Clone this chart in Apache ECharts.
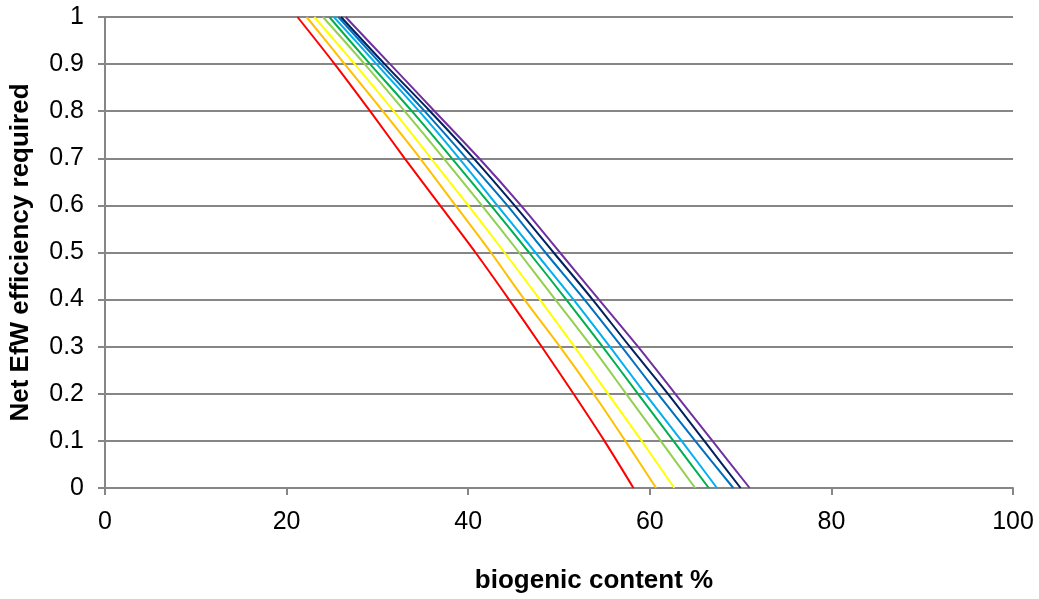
<!DOCTYPE html>
<html>
<head>
<meta charset="utf-8">
<script src="https://cdn.jsdelivr.net/npm/echarts@6/dist/echarts.min.js"></script>
<style>html,body{margin:0;padding:0;background:#fff;}#c{width:1039px;height:599px;}</style>
</head>
<body>
<div id="c"></div>
<script>
// efficiency levels (y values) at which biogenic content was read
var efficiency = [1, 0.9, 0.8, 0.7, 0.6, 0.5, 0.4, 0.3, 0.2, 0.1, 0];
// biogenic content % for each series at the efficiency levels above
var s1 = [21.2, 25.3, 29.2, 33.0, 36.9, 40.8, 44.5, 48.1, 51.6, 55.0, 58.2];
var s2 = [22.2, 26.4, 30.6, 34.7, 38.6, 42.5, 46.2, 50.1, 53.8, 57.3, 60.7];
var s3 = [23.05, 27.5, 31.8, 35.9, 40.0, 44.0, 47.9, 51.7, 55.4, 59.1, 62.7];
var s4 = [24.0, 28.6, 33.0, 37.3, 41.5, 45.6, 49.6, 53.6, 57.4, 61.2, 65.0];
var s5 = [24.7, 29.2, 33.8, 38.2, 42.5, 46.7, 50.8, 54.8, 58.7, 62.6, 66.5];
var s6 = [25.2, 29.9, 34.6, 39.0, 43.2, 47.4, 51.6, 55.6, 59.5, 63.5, 67.4];
var s7 = [25.7, 30.4, 35.2, 39.8, 44.3, 48.5, 52.8, 56.9, 60.9, 65.0, 69.2];
var s8 = [26.0, 30.8, 35.8, 40.6, 45.1, 49.4, 53.7, 57.8, 62.0, 66.0, 70.0];
var s9 = [26.5, 31.4, 36.3, 41.2, 45.8, 50.1, 54.4, 58.7, 62.8, 66.9, 71.0];
var seriesValues = [s1, s2, s3, s4, s5, s6, s7, s8, s9];
var colors = ['#FF0000', '#FFC000', '#FFFF00', '#92D050', '#00B050', '#00B0F0', '#0070C0', '#002060', '#7030A0'];
var xTicks = [0, 20, 40, 60, 80, 100];
var yTicks = [0, 0.1, 0.2, 0.3, 0.4, 0.5, 0.6, 0.7, 0.8, 0.9, 1];

var chart = echarts.init(document.getElementById('c'), null, {renderer: 'canvas'});
var font = 'Liberation Sans, Arial, sans-serif';
var series = seriesValues.map(function (vals, i) {
  return {
    type: 'line',
    data: vals.map(function (v, j) { return [v, efficiency[j]]; }),
    showSymbol: false,
    symbol: 'none',
    smooth: 0.3,
    lineStyle: {color: colors[i], width: 2},
    itemStyle: {color: colors[i]},
    animation: false
  };
});
chart.setOption({
  backgroundColor: '#ffffff',
  animation: false,
  grid: {left: 102, right: 26, top: 17, bottom: 111, containLabel: false},
  xAxis: {
    type: 'value', min: 0, max: 100, interval: 20,
    name: 'biogenic content %', nameLocation: 'middle', nameGap: 80,
    nameTextStyle: {fontFamily: font, fontSize: 26, fontWeight: 'bold', color: '#000', padding: [0, 0, 0, 70]},
    axisLine: {show: true, lineStyle: {color: '#868686', width: 2}},
    axisTick: {show: true, inside: false, length: 7, lineStyle: {color: '#868686', width: 2}},
    axisLabel: {fontFamily: font, fontSize: 25, color: '#000', margin: 22,
      formatter: function (v) { return xTicks.indexOf(v) >= 0 ? String(v) : ''; }},
    splitLine: {show: false}
  },
  yAxis: {
    type: 'value', min: 0, max: 1, interval: 0.1,
    name: 'Net EfW efficiency required', nameLocation: 'middle', nameGap: 71,
    nameTextStyle: {fontFamily: font, fontSize: 26, fontWeight: 'bold', color: '#000'},
    axisLine: {show: true, lineStyle: {color: '#868686', width: 2}},
    axisTick: {show: true, inside: false, length: 7, lineStyle: {color: '#868686', width: 2}},
    axisLabel: {fontFamily: font, fontSize: 25, color: '#000', margin: 21,
      formatter: function (v) {
        var r = Math.round(v * 10) / 10;
        for (var k = 0; k < yTicks.length; k++) { if (Math.abs(yTicks[k] - r) < 1e-9) return String(yTicks[k]); }
        return '';
      }},
    splitLine: {show: true, lineStyle: {color: '#868686', width: 2}}
  },
  series: series
});
</script>
</body>
</html>
